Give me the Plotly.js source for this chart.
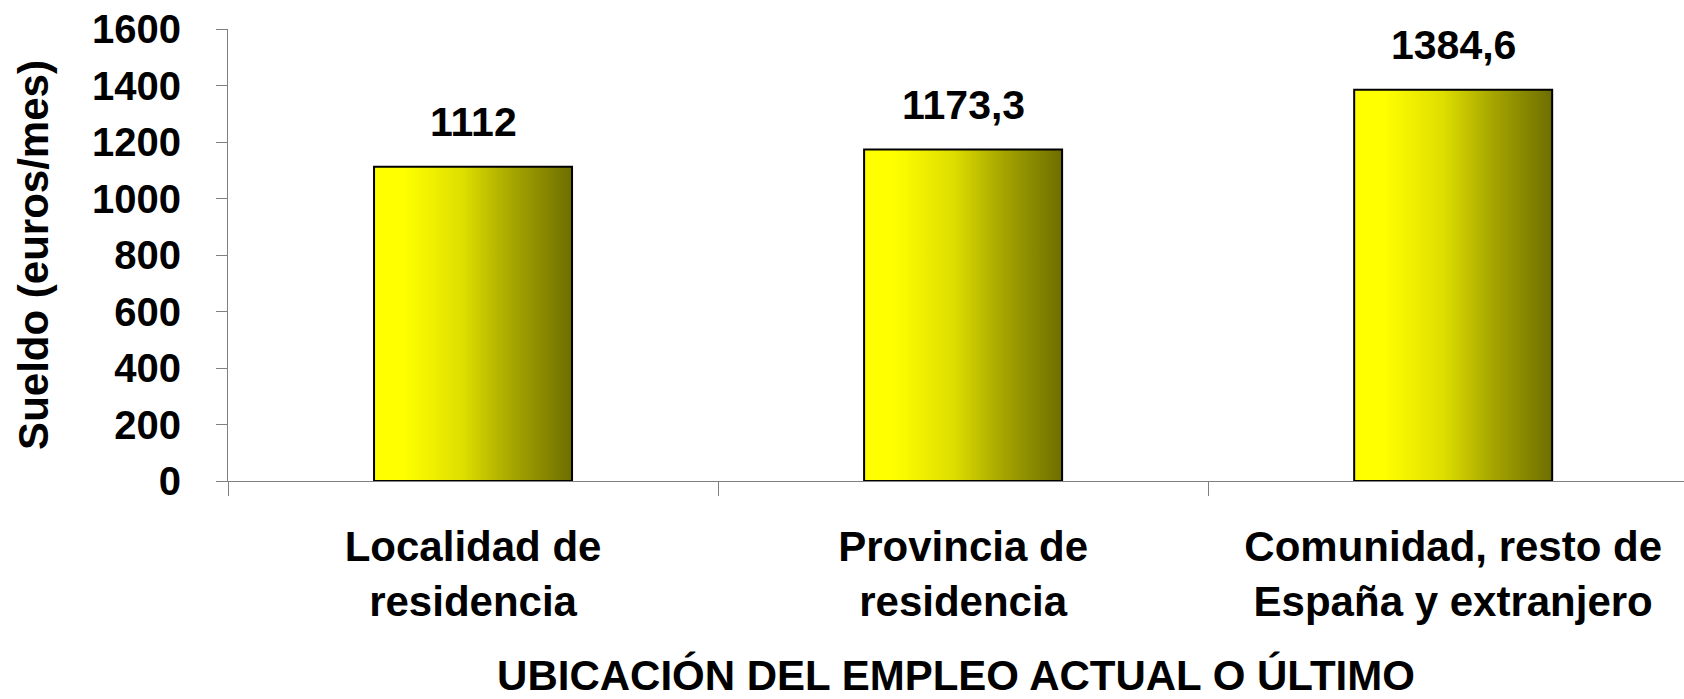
<!DOCTYPE html>
<html>
<head>
<meta charset="utf-8">
<script src="https://cdn.plot.ly/plotly-3.0.1.min.js"></script>
<style>
  html, body { margin: 0; padding: 0; background: #ffffff; }
  #chart { width: 1684px; height: 699px; }
</style>
</head>
<body>
<div id="chart"></div>
<script>
// ---- data ----
const categories = [
  "Localidad de<br>residencia",
  "Provincia de<br>residencia",
  "Comunidad, resto de<br>España y extranjero"
];
const sueldo = [1112, 1173.3, 1384.6];
const valueLabels = ["1112", "1173,3", "1384,6"];
const yTickVals = [0, 200, 400, 600, 800, 1000, 1200, 1400, 1600];
const yTitle = "Sueldo (euros/mes)";
const xTitle = "UBICACIÓN DEL EMPLEO ACTUAL O ÚLTIMO";

const FONT = "Liberation Sans, Arial, Helvetica, sans-serif";
const boldFont = (size) => ({ family: FONT, size: size, color: "#000000", weight: "bold" });

const trace = {
  type: "bar",
  x: categories,
  y: sueldo,
  width: 0.404,
  marker: {
    color: "#dede00",
    line: { color: "#000000", width: 2 }
  },
  hoverinfo: "x+y"
};

const valueAnnotations = categories.map((c, i) => ({
  x: c,
  y: sueldo[i],
  xref: "x",
  yref: "y",
  text: valueLabels[i],
  showarrow: false,
  xanchor: "center",
  yanchor: "bottom",
  yshift: 20,
  font: boldFont(41)
}));

const layout = {
  width: 1684,
  height: 699,
  margin: { l: 228, r: 0, t: 29, b: 218 },
  paper_bgcolor: "#ffffff",
  plot_bgcolor: "#ffffff",
  showlegend: false,
  bargap: 0.6,
  annotations: valueAnnotations,
  xaxis: {
    type: "category",
    range: [-0.5, 2.471],
    tickson: "boundaries",
    ticks: "outside",
    ticklen: 14,
    tickcolor: "#808080",
    tickwidth: 1,
    showline: true,
    linecolor: "#808080",
    linewidth: 1,
    showgrid: false,
    zeroline: false,
    tickfont: boldFont(42),
    ticklabelstandoff: 29,
    title: { text: xTitle, font: boldFont(42), standoff: 51 },
    automargin: false
  },
  yaxis: {
    range: [0, 1600],
    tickmode: "array",
    tickvals: yTickVals,
    ticktext: yTickVals.map(String),
    ticks: "outside",
    ticklen: 11,
    tickcolor: "#808080",
    tickwidth: 1,
    showline: true,
    linecolor: "#808080",
    linewidth: 1,
    showgrid: false,
    zeroline: false,
    tickfont: boldFont(40),
    ticklabelstandoff: 27,
    title: { text: yTitle, font: boldFont(42), standoff: 30 },
    automargin: false
  }
};

Plotly.newPlot("chart", [trace], layout, { displayModeBar: false, staticPlot: true }).then(applyGradient);

function applyGradient() {
  const gd = document.getElementById("chart");
  const svg = gd.querySelector("svg.main-svg");
  const ns = "http://www.w3.org/2000/svg";
  let defs = svg.querySelector("defs");
  if (!defs) { defs = document.createElementNS(ns, "defs"); svg.insertBefore(defs, svg.firstChild); }
  const grad = document.createElementNS(ns, "linearGradient");
  grad.setAttribute("id", "barGrad");
  grad.setAttribute("x1", "0"); grad.setAttribute("y1", "0");
  grad.setAttribute("x2", "1"); grad.setAttribute("y2", "0");
  [["0", "#ffff00"], ["0.15", "#ffff00"], ["0.45", "#dede00"], ["0.7", "#a5a500"], ["1", "#6e6e00"]]
    .forEach(([o, c]) => {
      const s = document.createElementNS(ns, "stop");
      s.setAttribute("offset", o);
      s.setAttribute("stop-color", c);
      grad.appendChild(s);
    });
  defs.appendChild(grad);
  gd.querySelectorAll(".barlayer .point path").forEach(p => { p.style.fill = "url(#barGrad)"; });
}
</script>
</body>
</html>
